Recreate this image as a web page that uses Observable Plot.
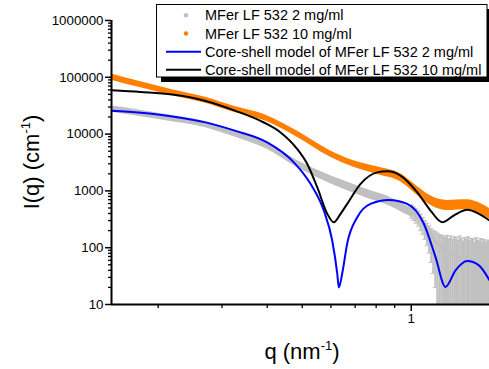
<!DOCTYPE html>
<html><head><meta charset="utf-8">
<script src="https://cdn.jsdelivr.net/npm/d3@7"></script>
<script src="https://cdn.jsdelivr.net/npm/@observablehq/plot@0.6"></script>
<style>
html,body{margin:0;padding:0;background:#fff}
svg{display:block}
#chart g[aria-label="y-axis tick label"], #chart g[aria-label="x-axis tick label"]{font-size:13.3px;font-family:Arial,'Liberation Sans',sans-serif}
</style>
</head><body><div id="chart"></div>
<script>
// ---- axis ticks ----
const xMajorTicks = [1];
const xMinorTicks = [0.2, 0.3, 0.4, 0.5, 0.6, 0.7, 0.8, 0.9];
const yMajorTicks = [10, 100, 1000, 10000, 100000, 1000000];
const yMinorTicks = [20,30,40,50,60,70,80,90,200,300,400,500,600,700,800,900,
  2000,3000,4000,5000,6000,7000,8000,9000,20000,30000,40000,50000,60000,70000,80000,90000,
  200000,300000,400000,500000,600000,700000,800000,900000];

// ---- series labels ----
const seriesNames = ["MFer LF 532 2 mg/ml", "MFer LF 532 10 mg/ml",
  "Core-shell model of MFer LF 532 2 mg/ml", "Core-shell model of MFer LF 532 10 mg/ml"];

// ---- MFer LF 532 10 mg/ml (data band) ----
const orangeQ  = [0.1486,0.1768,0.2187,0.2703,0.3236,0.3956,0.4843,0.5985,0.6942,0.8055,0.9342,1.039,1.1305,1.2571,1.4279,1.5541,1.6451];
const orangeI  = [101000,75300,53700,39500,27500,19300,10000,4460,2980,2270,1710,1010,677,552,575,483,395];
const orangeLo = [89000,66500,47500,35000,24300,17000,8800,3900,2600,1950,1450,840,560,450,470,390,320];
const orangeHi = [114000,85000,60500,44500,31000,21800,11300,5050,3400,2650,2000,1200,820,680,700,600,490];

// ---- MFer LF 532 2 mg/ml (data band + noisy tail) ----
const grayQ  = [0.1486,0.1768,0.2187,0.2703,0.3236,0.4000,0.4843,0.5499,0.6378,0.7556,0.8585,0.9749,1.0000];
const grayI  = [27500,23500,18700,14700,10300,6150,2980,1990,1330,885,677,451,420];
const grayLo = [24300,20700,16500,13000,9000,5400,2580,1700,1120,740,565,375,345];
const grayHi = [31100,26600,21200,16600,11700,7000,3440,2330,1580,1060,810,540,510];
const grayTailQ  = [1.000,1.015,1.030,1.045,1.060,1.075,1.090,1.105,1.120,1.135,1.150,1.165,1.180,1.195,1.210,1.225,1.240,1.255,1.270,1.285,1.300,1.315,1.330,1.345,1.360,1.375,1.390,1.405,1.420,1.435,1.450,1.465,1.480,1.495,1.510,1.525,1.540,1.555,1.570,1.585,1.600,1.615,1.630,1.645];
const grayTailI  = [430,400,370,340,300,270,240,210,185,165,145,130,118,108,100,95,90,86,84,80,78,76,74,72,70,69,68,66,65,64,62,61,60,59,58,57,56,55,54,53,52,51,50,49];
const grayTailLo = [330,300,270,240,200,170,140,110,80,55,35,20,10,10,10,10,10,10,10,10,10,10,10,10,10,10,10,10,10,10,10,10,10,10,10,10,10,10,10,10,10,10,10,10];
const grayTailHi = [560,520,480,440,390,340,300,270,240,215,200,190,180,170,165,160,150,165,145,160,140,155,150,135,160,145,130,150,140,155,130,145,140,125,150,135,130,145,125,140,130,120,135,125];

// ---- Core-shell model, 2 mg/ml ----
const blueQ = [0.1486,0.1788,0.2187,0.2703,0.3270,0.4000,0.4739,0.5270,0.5734,0.6049,0.6245,0.6310,0.6448,0.6656,0.7094,0.7716,0.8671,0.9749,1.0834,1.1671,1.2436,1.3253,1.4279,1.5374,1.6451];
const blueI = [25700,23700,20500,16100,11400,7130,3180,1330,451,134,35.4,19.9,35.4,119,344,592,695,592,264,68.4,20.4,40.0,58.2,48.9,26.7];

// ---- Core-shell model, 10 mg/ml ----
const blackQ = [0.1486,0.1788,0.2187,0.2703,0.3270,0.3915,0.4355,0.4843,0.5161,0.5499,0.5861,0.6111,0.6378,0.6656,0.7245,0.8055,0.8585,0.9342,1.0390,1.1305,1.2177,1.3111,1.4279,1.5374,1.6451];
const blackI = [59100,55200,49900,38400,25700,16000,10700,5460,2980,1160,395,281,395,592,1330,2120,2210,1860,944,451,281,369,464,395,301];

const rows = (q, cols) => q.map((v, i) => Object.fromEntries([["q", v], ...Object.entries(cols).map(([k, a]) => [k, a[i]])]));
const orange = rows(orangeQ, {I: orangeI, lo: orangeLo, hi: orangeHi});
const gray = rows(grayQ, {I: grayI, lo: grayLo, hi: grayHi});
const grayTail = rows(grayTailQ, {I: grayTailI, lo: grayTailLo, hi: grayTailHi});
const grayTailLoCaps = grayTail.filter(d => d.lo > 10);
const blue = rows(blueQ, {I: blueI});
const black = rows(blackQ, {I: blackI});

const FONT = "Arial, 'Liberation Sans', sans-serif";
const GRAY = "#C0C0C0", ORANGE = "#FF8000", BLUE = "#0000FF";
// horizontal error-bar cap as a dot symbol
const capSymbol = {draw(ctx) { ctx.moveTo(-2.5, 0); ctx.lineTo(2.5, 0); }};

const plot = Plot.plot({
  width: 489, height: 369,
  marginLeft: 111, marginRight: 0, marginTop: 20, marginBottom: 65,
  x: {type: "log", domain: [0.1486, 1.645]},
  y: {type: "log", domain: [10, 1000000]},
  style: {fontFamily: FONT, fontSize: "13.3px", color: "#000", background: "#fff", overflow: "visible"},
  marks: [
    Plot.areaY(gray, {x: "q", y1: "lo", y2: "hi", fill: GRAY, curve: "monotone-x", clip: true}),
    Plot.ruleX(grayTail, {x: "q", y1: "lo", y2: "hi", stroke: GRAY, strokeWidth: 2, clip: true}),
    Plot.dot(grayTail, {x: "q", y: "hi", symbol: capSymbol, stroke: GRAY, strokeWidth: 1, clip: true}),
    Plot.dot(grayTailLoCaps, {x: "q", y: "lo", symbol: capSymbol, stroke: GRAY, strokeWidth: 1, clip: true}),
    Plot.dot(grayTail, {x: "q", y: "I", r: 2, fill: GRAY, stroke: null, clip: true}),
    Plot.areaY(orange, {x: "q", y1: "lo", y2: "hi", fill: ORANGE, curve: "monotone-x", clip: true}),
    Plot.line(blue, {x: "q", y: "I", stroke: BLUE, strokeWidth: 2, curve: "monotone-x", clip: true}),
    Plot.line(black, {x: "q", y: "I", stroke: "#000", strokeWidth: 2, curve: "monotone-x", clip: true}),
    Plot.axisY({ticks: yMinorTicks, tickSize: 3, tickFormat: () => "", label: null, strokeWidth: 1.3}),
    Plot.axisY({ticks: yMajorTicks, tickSize: 6, tickPadding: 2, tickFormat: d => String(d), label: null, strokeWidth: 1.5}),
    Plot.axisX({ticks: xMinorTicks, tickSize: 4, tickFormat: () => "", label: null, strokeWidth: 1.3}),
    Plot.axisX({ticks: xMajorTicks, tickSize: 7, tickPadding: 2, tickFormat: d => String(d), label: null, strokeWidth: 1.5}),
    Plot.ruleX([0.1486], {stroke: "#000", strokeWidth: 2}),
    Plot.ruleY([10], {stroke: "#000", strokeWidth: 2})
  ]
});

const svg = d3.select(plot);

// axis titles
const xt = svg.append("text").attr("x", 302).attr("y", 359).attr("text-anchor", "middle")
  .attr("font-family", FONT).attr("font-size", 22).attr("fill", "#000");
xt.append("tspan").text("q (nm");
xt.append("tspan").attr("dy", -9).attr("font-size", 13).text("-1");
xt.append("tspan").attr("dy", 9).text(")");

const yt = svg.append("text").attr("transform", "translate(39,162) rotate(-90)").attr("text-anchor", "middle")
  .attr("font-family", FONT).attr("font-size", 22).attr("fill", "#000");
yt.append("tspan").text("I(q) (cm");
yt.append("tspan").attr("dy", -9).attr("font-size", 13).text("-1");
yt.append("tspan").attr("dy", 9).text(")");

// legend
const lg = svg.append("g");
lg.append("rect").attr("x", 161).attr("y", 9).attr("width", 331).attr("height", 73).attr("fill", "#000");
lg.append("rect").attr("x", 156.5).attr("y", 4.5).attr("width", 330.5).attr("height", 72.5).attr("fill", "#fff").attr("stroke", "#000").attr("stroke-width", 1);
const rowY = [15.3, 33.5, 51.7, 69.8];
const kinds = [["dot", GRAY], ["dot", ORANGE], ["line", BLUE], ["line", "#000"]];
seriesNames.forEach((name, i) => {
  const [k, c] = kinds[i];
  if (k === "dot") lg.append("circle").attr("cx", 186).attr("cy", rowY[i]).attr("r", 2.2).attr("fill", c);
  else lg.append("line").attr("x1", 166).attr("x2", 201).attr("y1", rowY[i]).attr("y2", rowY[i]).attr("stroke", c).attr("stroke-width", 2);
  lg.append("text").attr("x", 205).attr("y", rowY[i] + 5).attr("text-anchor", "start").attr("font-family", FONT).attr("font-size", 14.5).attr("fill", "#000").text(name);
});

document.getElementById("chart").appendChild(plot);
</script>
</body></html>
